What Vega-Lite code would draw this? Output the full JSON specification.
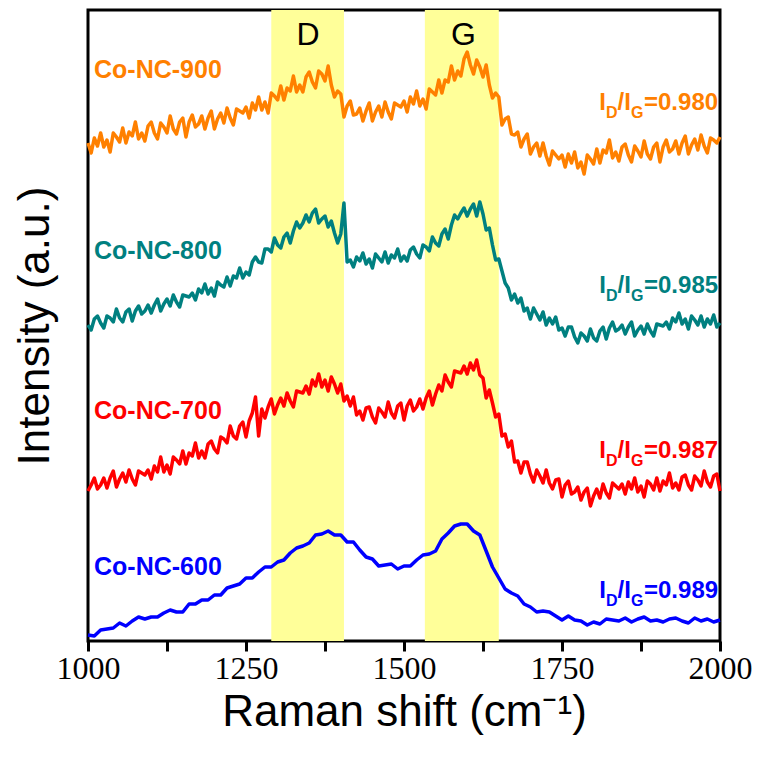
{
"$schema":"https://vega.github.io/schema/vega-lite/v6.json",
"width":632,"height":631,
"autosize":{"type":"none"},
"padding":{"left":88,"top":10,"right":46,"bottom":121},
"background":"white",
"config":{"view":{"stroke":"black","strokeWidth":3},"font":"Liberation Sans",
"axis":{"labelFont":"Liberation Sans Narrow","labelFontSize":32,"labelColor":"black","titleFont":"Liberation Sans","titleFontSize":44,"titleFontWeight":"normal","titleColor":"black","tickColor":"black","tickWidth":3,"grid":false,"domain":false}},
"datasets":{
"bands":[{"start":1290,"end":1405},{"start":1533,"end":1650}],
"peaks":[{"label":"D","x":1348,"y":596},{"label":"G","x":1594,"y":596}],
"labels":[
{"series":"900","name":"Co-NC-900","ratio":"=0.980","ny":563,"ry":531},
{"series":"800","name":"Co-NC-800","ratio":"=0.985","ny":382,"ry":348},
{"series":"700","name":"Co-NC-700","ratio":"=0.987","ny":222,"ry":183},
{"series":"600","name":"Co-NC-600","ratio":"=0.989","ny":66,"ry":43}],
"spectra":[
{"series":"600","x":1000,"y":6},{"series":"600","x":1010,"y":5},{"series":"600","x":1020,"y":11},{"series":"600","x":1030,"y":12},{"series":"600","x":1040,"y":13},{"series":"600","x":1050,"y":18},{"series":"600","x":1060,"y":15},{"series":"600","x":1070,"y":20},{"series":"600","x":1080,"y":24},{"series":"600","x":1090,"y":22},
{"series":"600","x":1100,"y":24},{"series":"600","x":1110,"y":24},{"series":"600","x":1120,"y":28},{"series":"600","x":1130,"y":31},{"series":"600","x":1140,"y":29},{"series":"600","x":1150,"y":29},{"series":"600","x":1160,"y":37},{"series":"600","x":1170,"y":37},{"series":"600","x":1180,"y":41},{"series":"600","x":1190,"y":41},
{"series":"600","x":1200,"y":46},{"series":"600","x":1210,"y":46},{"series":"600","x":1220,"y":53},{"series":"600","x":1230,"y":55},{"series":"600","x":1240,"y":57},{"series":"600","x":1250,"y":63},{"series":"600","x":1260,"y":63},{"series":"600","x":1270,"y":69},{"series":"600","x":1280,"y":74},{"series":"600","x":1290,"y":74},
{"series":"600","x":1300,"y":79},{"series":"600","x":1310,"y":81},{"series":"600","x":1320,"y":88},{"series":"600","x":1330,"y":93},{"series":"600","x":1340,"y":95},{"series":"600","x":1350,"y":98},{"series":"600","x":1360,"y":106},{"series":"600","x":1370,"y":107},{"series":"600","x":1380,"y":110},{"series":"600","x":1390,"y":106},
{"series":"600","x":1400,"y":106},{"series":"600","x":1410,"y":99},{"series":"600","x":1420,"y":99},{"series":"600","x":1430,"y":91},{"series":"600","x":1440,"y":84},{"series":"600","x":1450,"y":82},{"series":"600","x":1460,"y":75},{"series":"600","x":1470,"y":76},{"series":"600","x":1480,"y":77},{"series":"600","x":1490,"y":72},
{"series":"600","x":1500,"y":75},{"series":"600","x":1510,"y":75},{"series":"600","x":1520,"y":81},{"series":"600","x":1530,"y":86},{"series":"600","x":1540,"y":87},{"series":"600","x":1550,"y":90},{"series":"600","x":1560,"y":102},{"series":"600","x":1570,"y":108},{"series":"600","x":1580,"y":115},{"series":"600","x":1590,"y":117},
{"series":"600","x":1600,"y":117},{"series":"600","x":1610,"y":110},{"series":"600","x":1620,"y":106},{"series":"600","x":1630,"y":90},{"series":"600","x":1640,"y":74},{"series":"600","x":1650,"y":63},{"series":"600","x":1660,"y":52},{"series":"600","x":1670,"y":48},{"series":"600","x":1680,"y":45},{"series":"600","x":1690,"y":37},
{"series":"600","x":1700,"y":34},{"series":"600","x":1710,"y":29},{"series":"600","x":1720,"y":30},{"series":"600","x":1730,"y":29},{"series":"600","x":1740,"y":25},{"series":"600","x":1750,"y":21},{"series":"600","x":1760,"y":25},{"series":"600","x":1770,"y":21},{"series":"600","x":1780,"y":20},{"series":"600","x":1790,"y":16},
{"series":"600","x":1800,"y":19},{"series":"600","x":1810,"y":17},{"series":"600","x":1820,"y":22},{"series":"600","x":1830,"y":21},{"series":"600","x":1840,"y":20},{"series":"600","x":1850,"y":23},{"series":"600","x":1860,"y":19},{"series":"600","x":1870,"y":22},{"series":"600","x":1880,"y":24},{"series":"600","x":1890,"y":20},
{"series":"600","x":1900,"y":21},{"series":"600","x":1910,"y":19},{"series":"600","x":1920,"y":22},{"series":"600","x":1930,"y":23},{"series":"600","x":1940,"y":20},{"series":"600","x":1950,"y":18},{"series":"600","x":1960,"y":23},{"series":"600","x":1970,"y":20},{"series":"600","x":1980,"y":22},{"series":"600","x":1990,"y":19},
{"series":"600","x":2000,"y":21},
{"series":"700","x":1000,"y":150},{"series":"700","x":1005,"y":156},{"series":"700","x":1010,"y":163},{"series":"700","x":1015,"y":152},{"series":"700","x":1020,"y":156},{"series":"700","x":1025,"y":163},{"series":"700","x":1030,"y":153},{"series":"700","x":1035,"y":163},{"series":"700","x":1040,"y":170},{"series":"700","x":1045,"y":154},
{"series":"700","x":1050,"y":162},{"series":"700","x":1055,"y":168},{"series":"700","x":1060,"y":159},{"series":"700","x":1065,"y":171},{"series":"700","x":1070,"y":162},{"series":"700","x":1075,"y":156},{"series":"700","x":1080,"y":170},{"series":"700","x":1085,"y":168},{"series":"700","x":1090,"y":166},{"series":"700","x":1095,"y":171},
{"series":"700","x":1100,"y":162},{"series":"700","x":1105,"y":175},{"series":"700","x":1110,"y":169},{"series":"700","x":1115,"y":184},{"series":"700","x":1120,"y":169},{"series":"700","x":1125,"y":176},{"series":"700","x":1130,"y":167},{"series":"700","x":1135,"y":184},{"series":"700","x":1140,"y":181},{"series":"700","x":1145,"y":177},
{"series":"700","x":1150,"y":190},{"series":"700","x":1155,"y":177},{"series":"700","x":1160,"y":188},{"series":"700","x":1165,"y":185},{"series":"700","x":1170,"y":198},{"series":"700","x":1175,"y":183},{"series":"700","x":1180,"y":190},{"series":"700","x":1185,"y":183},{"series":"700","x":1190,"y":197},{"series":"700","x":1195,"y":200},
{"series":"700","x":1200,"y":192},{"series":"700","x":1205,"y":188},{"series":"700","x":1210,"y":204},{"series":"700","x":1215,"y":202},{"series":"700","x":1220,"y":198},{"series":"700","x":1225,"y":215},{"series":"700","x":1230,"y":205},{"series":"700","x":1235,"y":202},{"series":"700","x":1240,"y":215},{"series":"700","x":1245,"y":219},
{"series":"700","x":1250,"y":204},{"series":"700","x":1255,"y":220},{"series":"700","x":1260,"y":228},{"series":"700","x":1265,"y":244},{"series":"700","x":1270,"y":205},{"series":"700","x":1275,"y":232},{"series":"700","x":1280,"y":223},{"series":"700","x":1285,"y":234},{"series":"700","x":1290,"y":242},{"series":"700","x":1295,"y":227},
{"series":"700","x":1300,"y":236},{"series":"700","x":1305,"y":243},{"series":"700","x":1310,"y":235},{"series":"700","x":1315,"y":248},{"series":"700","x":1320,"y":240},{"series":"700","x":1325,"y":234},{"series":"700","x":1330,"y":250},{"series":"700","x":1335,"y":249},{"series":"700","x":1340,"y":248},{"series":"700","x":1345,"y":255},
{"series":"700","x":1350,"y":247},{"series":"700","x":1355,"y":261},{"series":"700","x":1360,"y":255},{"series":"700","x":1365,"y":267},{"series":"700","x":1370,"y":254},{"series":"700","x":1375,"y":261},{"series":"700","x":1380,"y":250},{"series":"700","x":1385,"y":264},{"series":"700","x":1390,"y":257},{"series":"700","x":1395,"y":248},
{"series":"700","x":1400,"y":257},{"series":"700","x":1405,"y":240},{"series":"700","x":1410,"y":245},{"series":"700","x":1415,"y":235},{"series":"700","x":1420,"y":244},{"series":"700","x":1425,"y":226},{"series":"700","x":1430,"y":230},{"series":"700","x":1435,"y":221},{"series":"700","x":1440,"y":233},{"series":"700","x":1445,"y":234},
{"series":"700","x":1450,"y":224},{"series":"700","x":1455,"y":218},{"series":"700","x":1460,"y":233},{"series":"700","x":1465,"y":229},{"series":"700","x":1470,"y":224},{"series":"700","x":1475,"y":239},{"series":"700","x":1480,"y":228},{"series":"700","x":1485,"y":223},{"series":"700","x":1490,"y":235},{"series":"700","x":1495,"y":238},
{"series":"700","x":1500,"y":221},{"series":"700","x":1505,"y":235},{"series":"700","x":1510,"y":241},{"series":"700","x":1515,"y":230},{"series":"700","x":1520,"y":234},{"series":"700","x":1525,"y":242},{"series":"700","x":1530,"y":232},{"series":"700","x":1535,"y":243},{"series":"700","x":1540,"y":250},{"series":"700","x":1545,"y":236},
{"series":"700","x":1550,"y":247},{"series":"700","x":1555,"y":256},{"series":"700","x":1560,"y":250},{"series":"700","x":1565,"y":266},{"series":"700","x":1570,"y":259},{"series":"700","x":1575,"y":254},{"series":"700","x":1580,"y":270},{"series":"700","x":1585,"y":269},{"series":"700","x":1590,"y":268},{"series":"700","x":1595,"y":275},
{"series":"700","x":1600,"y":267},{"series":"700","x":1605,"y":278},{"series":"700","x":1610,"y":271},{"series":"700","x":1615,"y":281},{"series":"700","x":1620,"y":266},{"series":"700","x":1625,"y":263},{"series":"700","x":1630,"y":243},{"series":"700","x":1635,"y":251},{"series":"700","x":1640,"y":238},{"series":"700","x":1645,"y":224},
{"series":"700","x":1650,"y":227},{"series":"700","x":1655,"y":205},{"series":"700","x":1660,"y":207},{"series":"700","x":1665,"y":194},{"series":"700","x":1670,"y":200},{"series":"700","x":1675,"y":179},{"series":"700","x":1680,"y":180},{"series":"700","x":1685,"y":168},{"series":"700","x":1690,"y":179},{"series":"700","x":1695,"y":179},
{"series":"700","x":1700,"y":167},{"series":"700","x":1705,"y":159},{"series":"700","x":1710,"y":171},{"series":"700","x":1715,"y":165},{"series":"700","x":1720,"y":158},{"series":"700","x":1725,"y":171},{"series":"700","x":1730,"y":158},{"series":"700","x":1735,"y":152},{"series":"700","x":1740,"y":161},{"series":"700","x":1745,"y":162},
{"series":"700","x":1750,"y":144},{"series":"700","x":1755,"y":156},{"series":"700","x":1760,"y":160},{"series":"700","x":1765,"y":147},{"series":"700","x":1770,"y":149},{"series":"700","x":1775,"y":154},{"series":"700","x":1780,"y":141},{"series":"700","x":1785,"y":149},{"series":"700","x":1790,"y":153},{"series":"700","x":1795,"y":135},
{"series":"700","x":1800,"y":145},{"series":"700","x":1805,"y":152},{"series":"700","x":1810,"y":143},{"series":"700","x":1815,"y":157},{"series":"700","x":1820,"y":148},{"series":"700","x":1825,"y":143},{"series":"700","x":1830,"y":158},{"series":"700","x":1835,"y":155},{"series":"700","x":1840,"y":152},{"series":"700","x":1845,"y":157},
{"series":"700","x":1850,"y":147},{"series":"700","x":1855,"y":159},{"series":"700","x":1860,"y":152},{"series":"700","x":1865,"y":163},{"series":"700","x":1870,"y":149},{"series":"700","x":1875,"y":155},{"series":"700","x":1880,"y":144},{"series":"700","x":1885,"y":160},{"series":"700","x":1890,"y":157},{"series":"700","x":1895,"y":151},
{"series":"700","x":1900,"y":163},{"series":"700","x":1905,"y":150},{"series":"700","x":1910,"y":160},{"series":"700","x":1915,"y":156},{"series":"700","x":1920,"y":168},{"series":"700","x":1925,"y":153},{"series":"700","x":1930,"y":158},{"series":"700","x":1935,"y":151},{"series":"700","x":1940,"y":164},{"series":"700","x":1945,"y":166},
{"series":"700","x":1950,"y":156},{"series":"700","x":1955,"y":151},{"series":"700","x":1960,"y":165},{"series":"700","x":1965,"y":161},{"series":"700","x":1970,"y":155},{"series":"700","x":1975,"y":170},{"series":"700","x":1980,"y":159},{"series":"700","x":1985,"y":154},{"series":"700","x":1990,"y":165},{"series":"700","x":1995,"y":167},
{"series":"700","x":2000,"y":150},
{"series":"800","x":1000,"y":316},{"series":"800","x":1005,"y":311},{"series":"800","x":1010,"y":322},{"series":"800","x":1015,"y":325},{"series":"800","x":1020,"y":318},{"series":"800","x":1025,"y":313},{"series":"800","x":1030,"y":325},{"series":"800","x":1035,"y":323},{"series":"800","x":1040,"y":319},{"series":"800","x":1045,"y":332},
{"series":"800","x":1050,"y":323},{"series":"800","x":1055,"y":319},{"series":"800","x":1060,"y":329},{"series":"800","x":1065,"y":332},{"series":"800","x":1070,"y":320},{"series":"800","x":1075,"y":330},{"series":"800","x":1080,"y":335},{"series":"800","x":1085,"y":327},{"series":"800","x":1090,"y":330},{"series":"800","x":1095,"y":336},
{"series":"800","x":1100,"y":328},{"series":"800","x":1105,"y":336},{"series":"800","x":1110,"y":342},{"series":"800","x":1115,"y":330},{"series":"800","x":1120,"y":337},{"series":"800","x":1125,"y":342},{"series":"800","x":1130,"y":335},{"series":"800","x":1135,"y":346},{"series":"800","x":1140,"y":339},{"series":"800","x":1145,"y":334},
{"series":"800","x":1150,"y":346},{"series":"800","x":1155,"y":345},{"series":"800","x":1160,"y":344},{"series":"800","x":1165,"y":348},{"series":"800","x":1170,"y":341},{"series":"800","x":1175,"y":352},{"series":"800","x":1180,"y":348},{"series":"800","x":1185,"y":357},{"series":"800","x":1190,"y":347},{"series":"800","x":1195,"y":353},
{"series":"800","x":1200,"y":345},{"series":"800","x":1205,"y":359},{"series":"800","x":1210,"y":356},{"series":"800","x":1215,"y":354},{"series":"800","x":1220,"y":364},{"series":"800","x":1225,"y":355},{"series":"800","x":1230,"y":365},{"series":"800","x":1235,"y":363},{"series":"800","x":1240,"y":373},{"series":"800","x":1245,"y":363},
{"series":"800","x":1250,"y":369},{"series":"800","x":1255,"y":366},{"series":"800","x":1260,"y":379},{"series":"800","x":1265,"y":384},{"series":"800","x":1270,"y":379},{"series":"800","x":1275,"y":378},{"series":"800","x":1280,"y":392},{"series":"800","x":1285,"y":392},{"series":"800","x":1290,"y":389},{"series":"800","x":1295,"y":403},
{"series":"800","x":1300,"y":396},{"series":"800","x":1305,"y":393},{"series":"800","x":1310,"y":404},{"series":"800","x":1315,"y":408},{"series":"800","x":1320,"y":398},{"series":"800","x":1325,"y":410},{"series":"800","x":1330,"y":419},{"series":"800","x":1335,"y":413},{"series":"800","x":1340,"y":418},{"series":"800","x":1345,"y":426},
{"series":"800","x":1350,"y":419},{"series":"800","x":1355,"y":428},{"series":"800","x":1360,"y":432},{"series":"800","x":1365,"y":418},{"series":"800","x":1370,"y":422},{"series":"800","x":1375,"y":425},{"series":"800","x":1380,"y":414},{"series":"800","x":1385,"y":420},{"series":"800","x":1390,"y":408},{"series":"800","x":1395,"y":398},
{"series":"800","x":1400,"y":407},{"series":"800","x":1405,"y":438},{"series":"800","x":1410,"y":379},{"series":"800","x":1415,"y":381},{"series":"800","x":1420,"y":374},{"series":"800","x":1425,"y":384},{"series":"800","x":1430,"y":380},{"series":"800","x":1435,"y":388},{"series":"800","x":1440,"y":377},{"series":"800","x":1445,"y":382},
{"series":"800","x":1450,"y":373},{"series":"800","x":1455,"y":387},{"series":"800","x":1460,"y":383},{"series":"800","x":1465,"y":379},{"series":"800","x":1470,"y":389},{"series":"800","x":1475,"y":378},{"series":"800","x":1480,"y":386},{"series":"800","x":1485,"y":383},{"series":"800","x":1490,"y":392},{"series":"800","x":1495,"y":380},
{"series":"800","x":1500,"y":385},{"series":"800","x":1505,"y":380},{"series":"800","x":1510,"y":391},{"series":"800","x":1515,"y":394},{"series":"800","x":1520,"y":387},{"series":"800","x":1525,"y":383},{"series":"800","x":1530,"y":396},{"series":"800","x":1535,"y":394},{"series":"800","x":1540,"y":390},{"series":"800","x":1545,"y":404},
{"series":"800","x":1550,"y":398},{"series":"800","x":1555,"y":395},{"series":"800","x":1560,"y":407},{"series":"800","x":1565,"y":412},{"series":"800","x":1570,"y":402},{"series":"800","x":1575,"y":416},{"series":"800","x":1580,"y":426},{"series":"800","x":1585,"y":422},{"series":"800","x":1590,"y":428},{"series":"800","x":1595,"y":433},
{"series":"800","x":1600,"y":425},{"series":"800","x":1605,"y":432},{"series":"800","x":1610,"y":437},{"series":"800","x":1615,"y":425},{"series":"800","x":1620,"y":439},{"series":"800","x":1625,"y":427},{"series":"800","x":1630,"y":411},{"series":"800","x":1635,"y":413},{"series":"800","x":1640,"y":396},{"series":"800","x":1645,"y":381},
{"series":"800","x":1650,"y":382},{"series":"800","x":1655,"y":370},{"series":"800","x":1660,"y":358},{"series":"800","x":1665,"y":353},{"series":"800","x":1670,"y":341},{"series":"800","x":1675,"y":347},{"series":"800","x":1680,"y":338},{"series":"800","x":1685,"y":343},{"series":"800","x":1690,"y":330},{"series":"800","x":1695,"y":333},
{"series":"800","x":1700,"y":322},{"series":"800","x":1705,"y":333},{"series":"800","x":1710,"y":327},{"series":"800","x":1715,"y":321},{"series":"800","x":1720,"y":329},{"series":"800","x":1725,"y":316},{"series":"800","x":1730,"y":323},{"series":"800","x":1735,"y":317},{"series":"800","x":1740,"y":324},{"series":"800","x":1745,"y":311},
{"series":"800","x":1750,"y":313},{"series":"800","x":1755,"y":305},{"series":"800","x":1760,"y":314},{"series":"800","x":1765,"y":314},{"series":"800","x":1770,"y":304},{"series":"800","x":1775,"y":298},{"series":"800","x":1780,"y":308},{"series":"800","x":1785,"y":305},{"series":"800","x":1790,"y":300},{"series":"800","x":1795,"y":312},
{"series":"800","x":1800,"y":303},{"series":"800","x":1805,"y":300},{"series":"800","x":1810,"y":310},{"series":"800","x":1815,"y":314},{"series":"800","x":1820,"y":302},{"series":"800","x":1825,"y":313},{"series":"800","x":1830,"y":319},{"series":"800","x":1835,"y":310},{"series":"800","x":1840,"y":312},{"series":"800","x":1845,"y":316},
{"series":"800","x":1850,"y":307},{"series":"800","x":1855,"y":314},{"series":"800","x":1860,"y":319},{"series":"800","x":1865,"y":305},{"series":"800","x":1870,"y":311},{"series":"800","x":1875,"y":315},{"series":"800","x":1880,"y":307},{"series":"800","x":1885,"y":317},{"series":"800","x":1890,"y":310},{"series":"800","x":1895,"y":305},
{"series":"800","x":1900,"y":317},{"series":"800","x":1905,"y":316},{"series":"800","x":1910,"y":315},{"series":"800","x":1915,"y":319},{"series":"800","x":1920,"y":312},{"series":"800","x":1925,"y":323},{"series":"800","x":1930,"y":319},{"series":"800","x":1935,"y":328},{"series":"800","x":1940,"y":317},{"series":"800","x":1945,"y":322},
{"series":"800","x":1950,"y":312},{"series":"800","x":1955,"y":325},{"series":"800","x":1960,"y":321},{"series":"800","x":1965,"y":316},{"series":"800","x":1970,"y":325},{"series":"800","x":1975,"y":314},{"series":"800","x":1980,"y":322},{"series":"800","x":1985,"y":317},{"series":"800","x":1990,"y":326},{"series":"800","x":1995,"y":314},
{"series":"800","x":2000,"y":318},
{"series":"900","x":1000,"y":498},{"series":"900","x":1005,"y":488},{"series":"900","x":1010,"y":503},{"series":"900","x":1015,"y":495},{"series":"900","x":1020,"y":508},{"series":"900","x":1025,"y":494},{"series":"900","x":1030,"y":501},{"series":"900","x":1035,"y":489},{"series":"900","x":1040,"y":508},{"series":"900","x":1045,"y":504},
{"series":"900","x":1050,"y":499},{"series":"900","x":1055,"y":513},{"series":"900","x":1060,"y":498},{"series":"900","x":1065,"y":509},{"series":"900","x":1070,"y":505},{"series":"900","x":1075,"y":519},{"series":"900","x":1080,"y":502},{"series":"900","x":1085,"y":508},{"series":"900","x":1090,"y":500},{"series":"900","x":1095,"y":515},
{"series":"900","x":1100,"y":519},{"series":"900","x":1105,"y":508},{"series":"900","x":1110,"y":502},{"series":"900","x":1115,"y":518},{"series":"900","x":1120,"y":514},{"series":"900","x":1125,"y":508},{"series":"900","x":1130,"y":525},{"series":"900","x":1135,"y":512},{"series":"900","x":1140,"y":507},{"series":"900","x":1145,"y":519},
{"series":"900","x":1150,"y":523},{"series":"900","x":1155,"y":504},{"series":"900","x":1160,"y":519},{"series":"900","x":1165,"y":526},{"series":"900","x":1170,"y":514},{"series":"900","x":1175,"y":517},{"series":"900","x":1180,"y":525},{"series":"900","x":1185,"y":512},{"series":"900","x":1190,"y":523},{"series":"900","x":1195,"y":530},
{"series":"900","x":1200,"y":512},{"series":"900","x":1205,"y":522},{"series":"900","x":1210,"y":528},{"series":"900","x":1215,"y":518},{"series":"900","x":1220,"y":533},{"series":"900","x":1225,"y":523},{"series":"900","x":1230,"y":516},{"series":"900","x":1235,"y":532},{"series":"900","x":1240,"y":530},{"series":"900","x":1245,"y":528},
{"series":"900","x":1250,"y":534},{"series":"900","x":1255,"y":523},{"series":"900","x":1260,"y":538},{"series":"900","x":1265,"y":531},{"series":"900","x":1270,"y":544},{"series":"900","x":1275,"y":531},{"series":"900","x":1280,"y":539},{"series":"900","x":1285,"y":528},{"series":"900","x":1290,"y":548},{"series":"900","x":1295,"y":545},
{"series":"900","x":1300,"y":541},{"series":"900","x":1305,"y":555},{"series":"900","x":1310,"y":541},{"series":"900","x":1315,"y":553},{"series":"900","x":1320,"y":550},{"series":"900","x":1325,"y":565},{"series":"900","x":1330,"y":549},{"series":"900","x":1335,"y":556},{"series":"900","x":1340,"y":549},{"series":"900","x":1345,"y":564},
{"series":"900","x":1350,"y":569},{"series":"900","x":1355,"y":559},{"series":"900","x":1360,"y":553},{"series":"900","x":1365,"y":570},{"series":"900","x":1370,"y":567},{"series":"900","x":1375,"y":560},{"series":"900","x":1380,"y":575},{"series":"900","x":1385,"y":556},{"series":"900","x":1390,"y":544},{"series":"900","x":1395,"y":550},
{"series":"900","x":1400,"y":547},{"series":"900","x":1405,"y":524},{"series":"900","x":1410,"y":535},{"series":"900","x":1415,"y":540},{"series":"900","x":1420,"y":526},{"series":"900","x":1425,"y":527},{"series":"900","x":1430,"y":533},{"series":"900","x":1435,"y":520},{"series":"900","x":1440,"y":530},{"series":"900","x":1445,"y":538},
{"series":"900","x":1450,"y":520},{"series":"900","x":1455,"y":529},{"series":"900","x":1460,"y":535},{"series":"900","x":1465,"y":524},{"series":"900","x":1470,"y":539},{"series":"900","x":1475,"y":529},{"series":"900","x":1480,"y":522},{"series":"900","x":1485,"y":538},{"series":"900","x":1490,"y":536},{"series":"900","x":1495,"y":534},
{"series":"900","x":1500,"y":540},{"series":"900","x":1505,"y":529},{"series":"900","x":1510,"y":544},{"series":"900","x":1515,"y":537},{"series":"900","x":1520,"y":550},{"series":"900","x":1525,"y":535},{"series":"900","x":1530,"y":542},{"series":"900","x":1535,"y":532},{"series":"900","x":1540,"y":552},{"series":"900","x":1545,"y":549},
{"series":"900","x":1550,"y":546},{"series":"900","x":1555,"y":561},{"series":"900","x":1560,"y":548},{"series":"900","x":1565,"y":561},{"series":"900","x":1570,"y":559},{"series":"900","x":1575,"y":575},{"series":"900","x":1580,"y":561},{"series":"900","x":1585,"y":570},{"series":"900","x":1590,"y":565},{"series":"900","x":1595,"y":582},
{"series":"900","x":1600,"y":589},{"series":"900","x":1605,"y":576},{"series":"900","x":1610,"y":567},{"series":"900","x":1615,"y":581},{"series":"900","x":1620,"y":574},{"series":"900","x":1625,"y":564},{"series":"900","x":1630,"y":576},{"series":"900","x":1635,"y":556},{"series":"900","x":1640,"y":543},{"series":"900","x":1645,"y":548},
{"series":"900","x":1650,"y":544},{"series":"900","x":1655,"y":516},{"series":"900","x":1660,"y":522},{"series":"900","x":1665,"y":524},{"series":"900","x":1670,"y":507},{"series":"900","x":1675,"y":506},{"series":"900","x":1680,"y":509},{"series":"900","x":1685,"y":494},{"series":"900","x":1690,"y":502},{"series":"900","x":1695,"y":507},
{"series":"900","x":1700,"y":487},{"series":"900","x":1705,"y":494},{"series":"900","x":1710,"y":498},{"series":"900","x":1715,"y":485},{"series":"900","x":1720,"y":498},{"series":"900","x":1725,"y":485},{"series":"900","x":1730,"y":476},{"series":"900","x":1735,"y":490},{"series":"900","x":1740,"y":486},{"series":"900","x":1745,"y":482},
{"series":"900","x":1750,"y":486},{"series":"900","x":1755,"y":474},{"series":"900","x":1760,"y":487},{"series":"900","x":1765,"y":478},{"series":"900","x":1770,"y":489},{"series":"900","x":1775,"y":473},{"series":"900","x":1780,"y":479},{"series":"900","x":1785,"y":467},{"series":"900","x":1790,"y":486},{"series":"900","x":1795,"y":482},
{"series":"900","x":1800,"y":477},{"series":"900","x":1805,"y":492},{"series":"900","x":1810,"y":478},{"series":"900","x":1815,"y":491},{"series":"900","x":1820,"y":488},{"series":"900","x":1825,"y":501},{"series":"900","x":1830,"y":483},{"series":"900","x":1835,"y":489},{"series":"900","x":1840,"y":480},{"series":"900","x":1845,"y":494},
{"series":"900","x":1850,"y":497},{"series":"900","x":1855,"y":486},{"series":"900","x":1860,"y":479},{"series":"900","x":1865,"y":495},{"series":"900","x":1870,"y":490},{"series":"900","x":1875,"y":484},{"series":"900","x":1880,"y":500},{"series":"900","x":1885,"y":487},{"series":"900","x":1890,"y":482},{"series":"900","x":1895,"y":494},
{"series":"900","x":1900,"y":498},{"series":"900","x":1905,"y":479},{"series":"900","x":1910,"y":494},{"series":"900","x":1915,"y":501},{"series":"900","x":1920,"y":489},{"series":"900","x":1925,"y":492},{"series":"900","x":1930,"y":500},{"series":"900","x":1935,"y":487},{"series":"900","x":1940,"y":498},{"series":"900","x":1945,"y":505},
{"series":"900","x":1950,"y":487},{"series":"900","x":1955,"y":496},{"series":"900","x":1960,"y":502},{"series":"900","x":1965,"y":491},{"series":"900","x":1970,"y":506},{"series":"900","x":1975,"y":495},{"series":"900","x":1980,"y":488},{"series":"900","x":1985,"y":503},{"series":"900","x":1990,"y":501},{"series":"900","x":1995,"y":498},
{"series":"900","x":2000,"y":504}
]},
"layer":[
{"data":{"name":"bands"},"mark":{"type":"rect","color":"#ffff99"},
 "encoding":{"x":{"field":"start","type":"quantitative","scale":{"domain":[1000,2000],"nice":false,"zero":false},"title":"Raman shift (cm⁻¹)",
   "axis":{"values":[1000,1125,1250,1375,1500,1625,1750,1875,2000],"format":"d","labelExpr":"datum.value % 250 === 0 ? datum.label : ''","labelOverlap":false,"labelBound":false,"labelFlush":false,"ticks":true,"tickColor":"black","tickWidth":3,"tickSize":10,"labelPadding":2,"titlePadding":6}},"x2":{"field":"end"}}},
{"data":{"name":"spectra"},"mark":{"type":"line","strokeWidth":3.5,"strokeJoin":"round"},
 "encoding":{
  "x":{"field":"x","type":"quantitative","scale":{"domain":[1000,2000],"nice":false,"zero":false},
   "title":"Raman shift (cm⁻¹)",
   "axis":{"values":[1000,1125,1250,1375,1500,1625,1750,1875,2000],"format":"d","labelExpr":"datum.value % 250 === 0 ? datum.label : ''","labelOverlap":false,"labelBound":false,"labelFlush":false,"ticks":true,"tickColor":"black","tickWidth":3,"tickSize":10,"labelPadding":2,"titlePadding":6}},
  "y":{"field":"y","type":"quantitative","scale":{"domain":[0,631],"nice":false,"zero":false},"title":"Intensity (a.u.)","axis":{"labels":false,"ticks":false,"domain":false,"titlePadding":31}},
  "color":{"field":"series","type":"nominal","scale":{"domain":["600","700","800","900"],"range":["#0000ff","#ff0000","#008080","#ff8000"]},"legend":null}}},
{"data":{"name":"peaks"},"mark":{"type":"text","fontSize":32,"font":"Liberation Sans","align":"center","baseline":"alphabetic","color":"black"},
 "encoding":{"x":{"field":"x","type":"quantitative"},"y":{"field":"y","type":"quantitative"},"text":{"field":"label"}}},
{"data":{"name":"labels"},"mark":{"type":"text","fontSize":25,"fontWeight":"bold","font":"Liberation Sans","align":"left","baseline":"alphabetic","dx":6},
 "encoding":{"x":{"datum":1000,"type":"quantitative"},"y":{"field":"ny","type":"quantitative"},"text":{"field":"name"},"color":{"field":"series","type":"nominal","legend":null}}},
{"data":{"name":"labels"},"mark":{"type":"text","text":"I","fontSize":24,"fontWeight":"bold","font":"Liberation Sans","align":"left","baseline":"alphabetic","dx":-120.7},
 "encoding":{"x":{"datum":2000,"type":"quantitative"},"y":{"field":"ry","type":"quantitative"},"color":{"field":"series","type":"nominal","legend":null}}},
{"data":{"name":"labels"},"mark":{"type":"text","text":"D","fontSize":16,"fontWeight":"bold","font":"Liberation Sans","align":"left","baseline":"alphabetic","dx":-114,"dy":8},
 "encoding":{"x":{"datum":2000,"type":"quantitative"},"y":{"field":"ry","type":"quantitative"},"color":{"field":"series","type":"nominal","legend":null}}},
{"data":{"name":"labels"},"mark":{"type":"text","text":"/","fontSize":24,"fontWeight":"bold","font":"Liberation Sans","align":"left","baseline":"alphabetic","dx":-102.4},
 "encoding":{"x":{"datum":2000,"type":"quantitative"},"y":{"field":"ry","type":"quantitative"},"color":{"field":"series","type":"nominal","legend":null}}},
{"data":{"name":"labels"},"mark":{"type":"text","text":"I","fontSize":24,"fontWeight":"bold","font":"Liberation Sans","align":"left","baseline":"alphabetic","dx":-95.7},
 "encoding":{"x":{"datum":2000,"type":"quantitative"},"y":{"field":"ry","type":"quantitative"},"color":{"field":"series","type":"nominal","legend":null}}},
{"data":{"name":"labels"},"mark":{"type":"text","text":"G","fontSize":16,"fontWeight":"bold","font":"Liberation Sans","align":"left","baseline":"alphabetic","dx":-89,"dy":8},
 "encoding":{"x":{"datum":2000,"type":"quantitative"},"y":{"field":"ry","type":"quantitative"},"color":{"field":"series","type":"nominal","legend":null}}},
{"data":{"name":"labels"},"mark":{"type":"text","fontSize":24,"fontWeight":"bold","font":"Liberation Sans","align":"left","baseline":"alphabetic","dx":-76},
 "encoding":{"x":{"datum":2000,"type":"quantitative"},"y":{"field":"ry","type":"quantitative"},"text":{"field":"ratio"},"color":{"field":"series","type":"nominal","legend":null}}}
]
}
